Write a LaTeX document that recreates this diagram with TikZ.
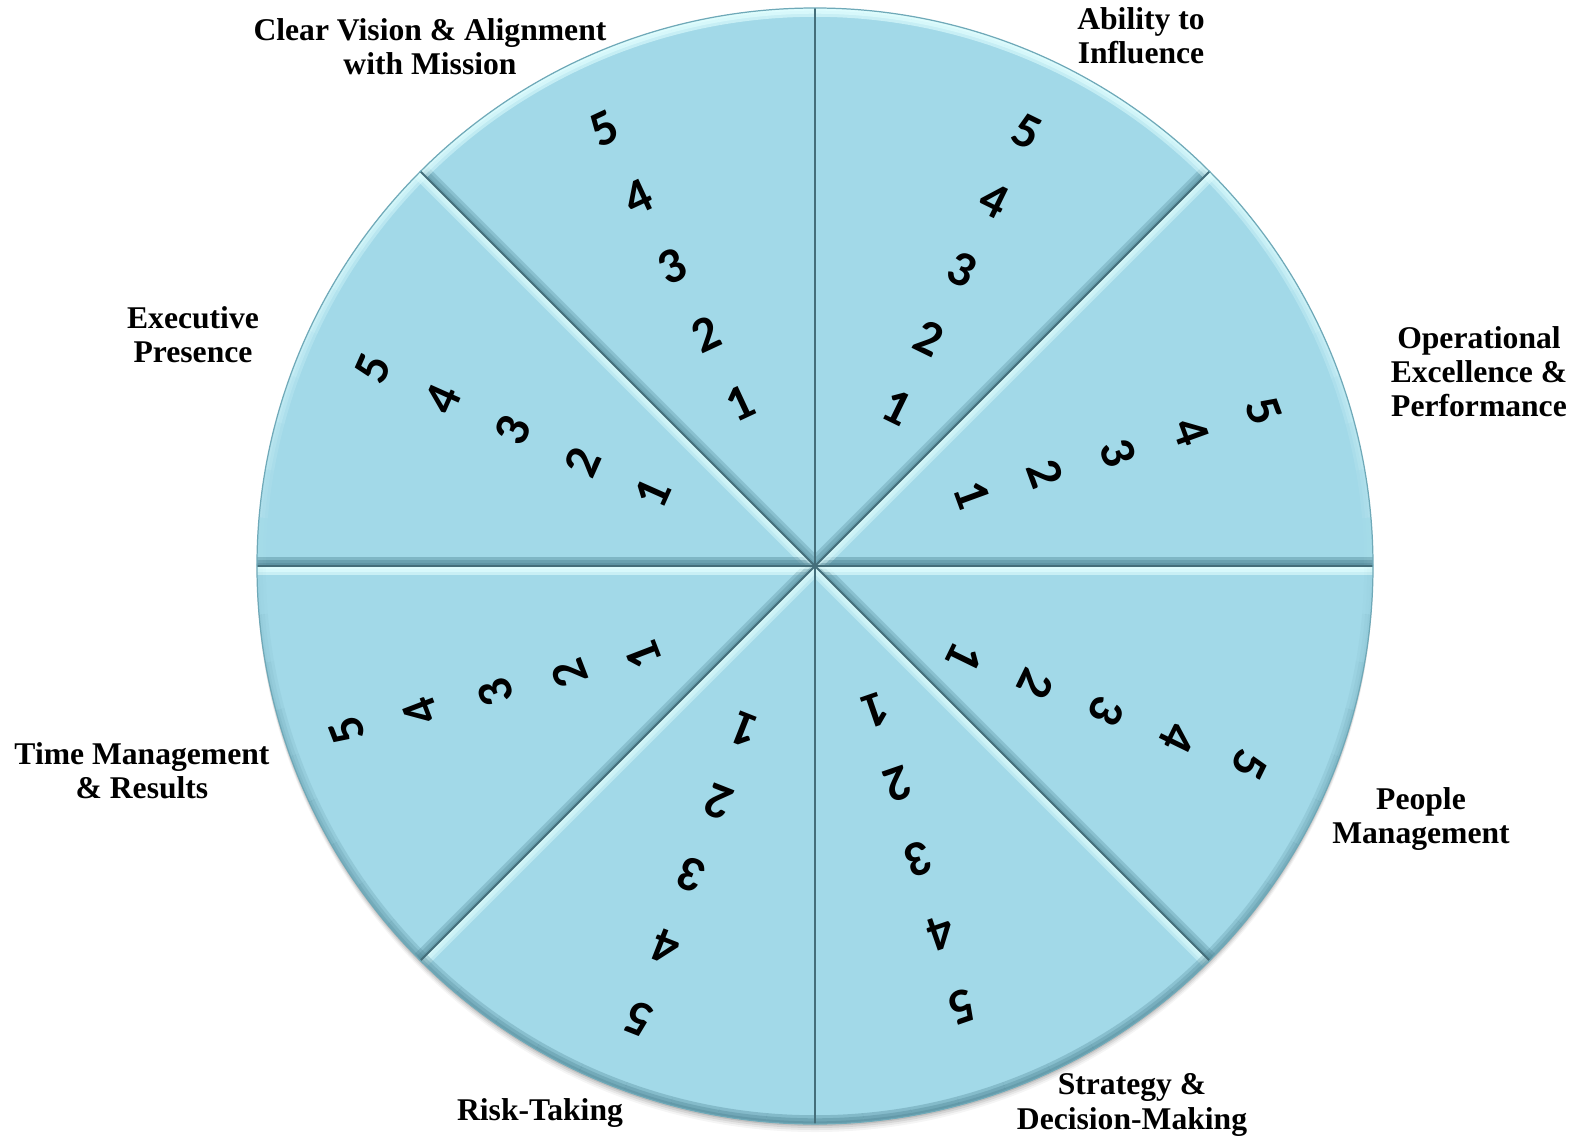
\documentclass[tikz,border=0pt]{standalone}
\usepackage{fontspec}
\setmainfont{Liberation Serif}
\newfontfamily\digitfont{Carlito}
\usetikzlibrary{calc}

\definecolor{wheelfill}{HTML}{A2D9E8}
\definecolor{wheellight}{HTML}{E2FFFF}
\definecolor{wheeldark}{HTML}{4C8292}
\definecolor{wheelline}{HTML}{446E7A}
\definecolor{wheelrim}{HTML}{6FA9B8}

\tikzset{
  area text/.style={align=center, font=\bfseries\fontsize{18}{19.4}\selectfont},
  score/.style={font=\digitfont\bfseries\fontsize{28.5}{28.5}\selectfont, inner sep=0pt},
}

\begin{document}
\begin{tikzpicture}[x=0.02cm, y=0.02cm]
  \useasboundingbox (-815,-571) rectangle (764,566);

  % soft shadow under the wheel
  \foreach \o/\op in {8/0.04, 6/0.06, 4/0.08, 2/0.1}
    \fill[black, opacity=\op] (0,-\o) circle (558);

  % the eight bevelled slices
  \foreach \k in {0,...,7}{
    \pgfmathsetmacro\a{45*\k}
    \pgfmathsetmacro\b{45*\k+45}
    \pgfmathsetmacro\ha{0.6*max(0,-cos(\a))}
    \pgfmathsetmacro\da{0.4*max(0,cos(\a))}
    \pgfmathsetmacro\hb{0.6*max(0,cos(\b))}
    \pgfmathsetmacro\db{0.4*max(0,-cos(\b))}
    \begin{scope}
      \clip (0,0) -- (\a:558) arc (\a:\b:558) -- cycle;
      \fill[wheelfill] (0,0) circle (560);
      \foreach \w in {10,6.5,3}{
        \draw[wheellight, line width=\w pt, draw opacity=\ha] (0,0) -- (\a:560);
        \draw[wheeldark, line width=\w pt, draw opacity=\da] (0,0) -- (\a:560);
        \draw[wheellight, line width=\w pt, draw opacity=\hb] (0,0) -- (\b:560);
        \draw[wheeldark, line width=\w pt, draw opacity=\db] (0,0) -- (\b:560);
      }
      \foreach \t in {0,5,...,40}{
        \pgfmathsetmacro\hs{0.6*max(0,sin(\a+\t+2.5))}
        \pgfmathsetmacro\ds{0.35*max(0,-sin(\a+\t+2.5))}
        \foreach \w in {10,6.5,3}{
          \draw[wheellight, line width=\w pt, draw opacity=\hs] (\a+\t:558) arc (\a+\t:\a+\t+5:558);
          \draw[wheeldark, line width=\w pt, draw opacity=\ds] (\a+\t:558) arc (\a+\t:\a+\t+5:558);
        }
      }
    \end{scope}
  }

  % dividing lines and rim
  \foreach \k in {0,...,7}
    \draw[wheelline, line width=1.1pt] (0,0) -- (45*\k:558);
  \draw[wheelrim, line width=0.7pt] (0,0) circle (558);

  % scores 1 to 5 along each slice (rotation / position of 1 / position of 5)
  \foreach \rot/\ax/\ay/\bx/\by [count=\k] in {
      20/157/71/449/155, 64/82/159/212/434, 115/-75/163/-211/437,
      156/-162/73/-442/198, 201/-171/-89/-468/-164, 248.5/-70/-164/-176/-453,
      289/61/-144/147/-441, 334/150/-91/434/-199}
    \foreach \n in {1,...,5}
      \node[score, rotate=\rot-90] (s\k-\n) at ($(\ax,\ay)!{(\n-1)/4}!(\bx,\by)$) {\n};

  % area names
  \node[area text] (vision) at (-385,519) {Clear Vision \& Alignment\\with Mission};
  \node[area text] (influence) at (326,530) {Ability to\\Influence};
  \node[area text] (operations) at (664,194) {Operational\\Excellence \&\\Performance};
  \node[area text] (people) at (606,-253) {People\\Management};
  \node[area text] (strategy) at (317,-539) {Strategy \&\\Decision-Making};
  \node[area text] (risk) at (-275,-547) {Risk-Taking};
  \node[area text] (time) at (-673,-205) {Time Management\\\& Results};
  \node[area text] (presence) at (-622,231) {Executive\\Presence};
\end{tikzpicture}
\end{document}
